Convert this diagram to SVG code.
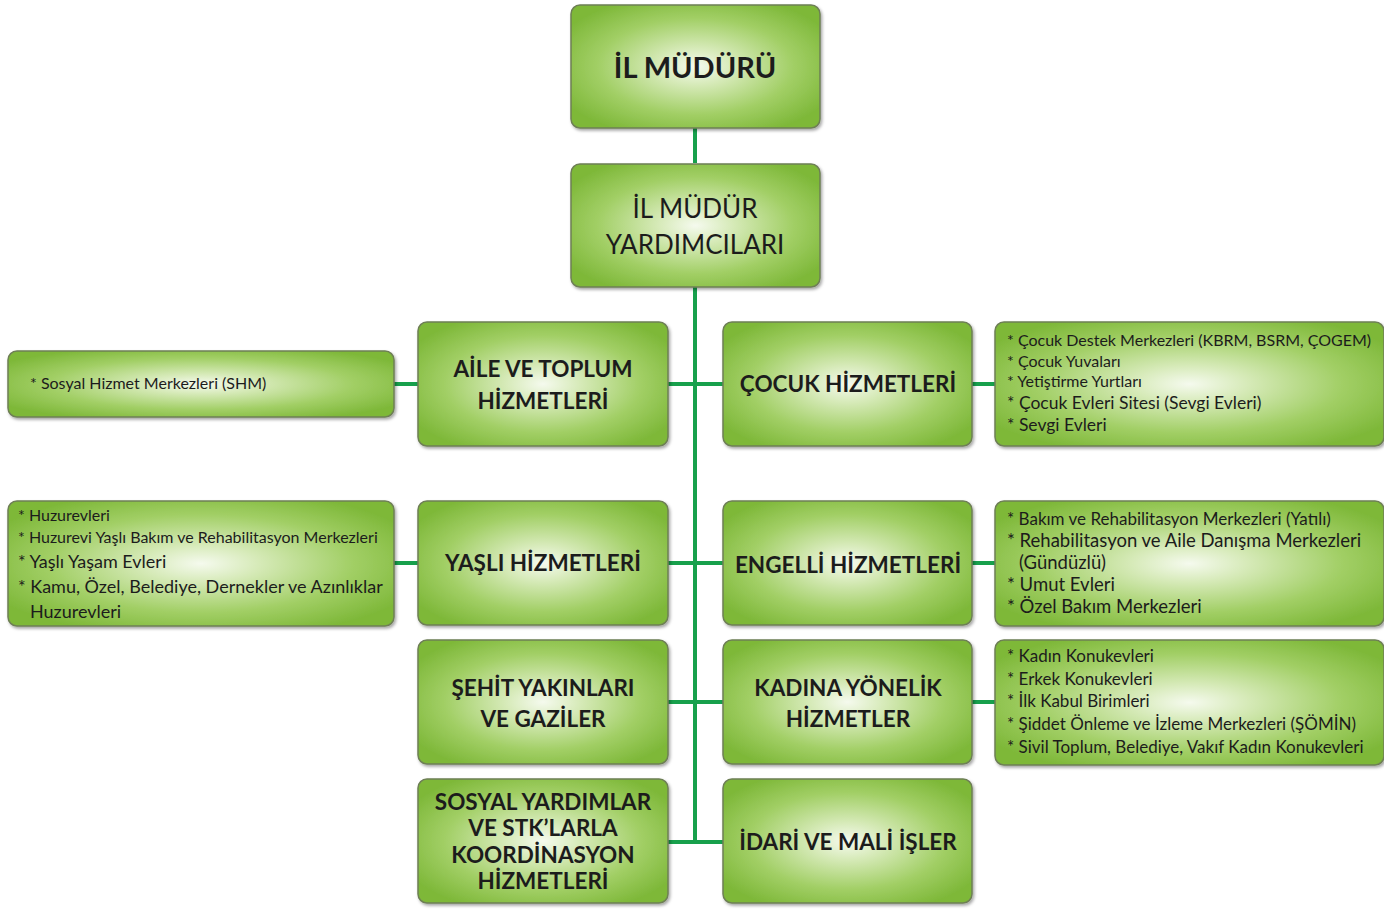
<svg xmlns="http://www.w3.org/2000/svg" width="1384" height="909" viewBox="0 0 1384 909">
<defs>
<radialGradient id="g" cx="0.5" cy="0.5" r="0.6">
<stop offset="0" stop-color="#f5faee"/>
<stop offset="0.25" stop-color="#d6eab8"/>
<stop offset="0.65" stop-color="#a2cf66"/>
<stop offset="1" stop-color="#7eb839"/>
</radialGradient>
<filter id="sh" x="-5%" y="-5%" width="110%" height="115%">
<feDropShadow dx="1.5" dy="2" stdDeviation="1.5" flood-color="#000" flood-opacity="0.35"/>
</filter>
</defs>
<style>
.box{fill:url(#g);stroke:#6e7f55;stroke-width:1.5;filter:url(#sh)}
.t{font-family:Lato,"Open Sans",sans-serif;font-weight:bold;font-size:22.5px;fill:#1c1c1c;text-anchor:middle}
.l{font-family:Lato,"Open Sans",sans-serif;font-size:16px;fill:#1c1c1c}
.m{font-size:17.5px}
.b{font-size:18.5px}
.c{stroke:#17a04c;stroke-width:4;fill:none}
</style>
<g id="connectors">
<line class="c" x1="695" y1="128" x2="695" y2="163"/>
<line class="c" x1="695" y1="287" x2="695" y2="844"/>
<line class="c" x1="668" y1="384" x2="723" y2="384"/>
<line class="c" x1="394" y1="384" x2="418" y2="384"/>
<line class="c" x1="972" y1="384" x2="995" y2="384"/>
<line class="c" x1="668" y1="563" x2="723" y2="563"/>
<line class="c" x1="394" y1="563" x2="418" y2="563"/>
<line class="c" x1="972" y1="563" x2="995" y2="563"/>
<line class="c" x1="668" y1="702" x2="723" y2="702"/>
<line class="c" x1="972" y1="702" x2="995" y2="702"/>
<line class="c" x1="668" y1="842" x2="723" y2="842"/>
</g>
<g id="il-muduru">
<rect class="box" x="571" y="5" width="249" height="123" rx="9"/>
<text class="t" x="695" y="78" style="font-size:29px">İL MÜDÜRÜ</text>
</g>
<g id="yardimcilar">
<rect class="box" x="571" y="164" width="249" height="123" rx="9"/>
<text class="t" x="695" y="218" style="font-size:26px;font-weight:normal">İL MÜDÜR</text>
<text class="t" x="695" y="254" style="font-size:26px;font-weight:normal">YARDIMCILARI</text>
</g>
<g id="aile">
<rect class="box" x="418" y="322" width="250" height="124" rx="9"/>
<text class="t" x="543" y="377">AİLE VE TOPLUM</text>
<text class="t" x="543" y="409">HİZMETLERİ</text>
</g>
<g id="shm">
<rect class="box" x="8" y="351" width="386" height="66" rx="9"/>
<text class="l" x="30" y="389">* Sosyal Hizmet Merkezleri (SHM)</text>
</g>
<g id="cocuk">
<rect class="box" x="723" y="322" width="249" height="124" rx="9"/>
<text class="t" x="848" y="392">ÇOCUK HİZMETLERİ</text>
</g>
<g id="cocuk-list">
<rect class="box" x="995" y="322" width="389" height="124" rx="9"/>
<text class="l" x="1007" y="346">* Çocuk Destek Merkezleri (KBRM, BSRM, ÇOGEM)</text>
<text class="l" x="1007" y="367">* Çocuk Yuvaları</text>
<text class="l" x="1007" y="387">* Yetiştirme Yurtları</text>
<text class="l m" x="1007" y="409">* Çocuk Evleri Sitesi (Sevgi Evleri)</text>
<text class="l m" x="1007" y="431">* Sevgi Evleri</text>
</g>
<g id="yasli">
<rect class="box" x="418" y="501" width="250" height="124" rx="9"/>
<text class="t" x="543" y="571">YAŞLI HİZMETLERİ</text>
</g>
<g id="yasli-list">
<rect class="box" x="8" y="501" width="386" height="125" rx="9"/>
<text class="l" x="18" y="521">* Huzurevleri</text>
<text class="l" x="18" y="543">* Huzurevi Yaşlı Bakım ve Rehabilitasyon Merkezleri</text>
<text class="l b" x="18" y="568" style="font-size:18px">* Yaşlı Yaşam Evleri</text>
<text class="l b" x="18" y="593" style="font-size:18px">* Kamu, Özel, Belediye, Dernekler ve Azınlıklar</text>
<text class="l b" x="30" y="618" style="font-size:18px">Huzurevleri</text>
</g>
<g id="engelli">
<rect class="box" x="723" y="501" width="249" height="124" rx="9"/>
<text class="t" x="848" y="573">ENGELLİ HİZMETLERİ</text>
</g>
<g id="engelli-list">
<rect class="box" x="995" y="501" width="389" height="125" rx="9"/>
<text class="l" x="1007" y="525" style="font-size:17px">* Bakım ve Rehabilitasyon Merkezleri (Yatılı)</text>
<text class="l b" x="1007" y="547">* Rehabilitasyon ve Aile Danışma Merkezleri</text>
<text class="l b" x="1019" y="569">(Gündüzlü)</text>
<text class="l b" x="1007" y="591">* Umut Evleri</text>
<text class="l b" x="1007" y="613">* Özel Bakım Merkezleri</text>
</g>
<g id="sehit">
<rect class="box" x="418" y="640" width="250" height="124" rx="9"/>
<text class="t" x="543" y="696">ŞEHİT YAKINLARI</text>
<text class="t" x="543" y="727">VE GAZİLER</text>
</g>
<g id="kadina">
<rect class="box" x="723" y="640" width="249" height="124" rx="9"/>
<text class="t" x="848" y="696">KADINA YÖNELİK</text>
<text class="t" x="848" y="727">HİZMETLER</text>
</g>
<g id="kadina-list">
<rect class="box" x="995" y="640" width="389" height="125" rx="9"/>
<text class="l" x="1007" y="662" style="font-size:17px">* Kadın Konukevleri</text>
<text class="l" x="1007" y="685" style="font-size:17px">* Erkek Konukevleri</text>
<text class="l" x="1007" y="707" style="font-size:17px">* İlk Kabul Birimleri</text>
<text class="l" x="1007" y="730" style="font-size:17px">* Şiddet Önleme ve İzleme Merkezleri (ŞÖMİN)</text>
<text class="l" x="1007" y="753" style="font-size:17px">* Sivil Toplum, Belediye, Vakıf Kadın Konukevleri</text>
</g>
<g id="sosyal">
<rect class="box" x="418" y="779" width="250" height="124" rx="9"/>
<text class="t" x="543" y="810">SOSYAL YARDIMLAR</text>
<text class="t" x="543" y="836">VE STK’LARLA</text>
<text class="t" x="543" y="863">KOORDİNASYON</text>
<text class="t" x="543" y="889">HİZMETLERİ</text>
</g>
<g id="idari">
<rect class="box" x="723" y="779" width="249" height="124" rx="9"/>
<text class="t" x="848" y="850">İDARİ VE MALİ İŞLER</text>
</g>
</svg>
